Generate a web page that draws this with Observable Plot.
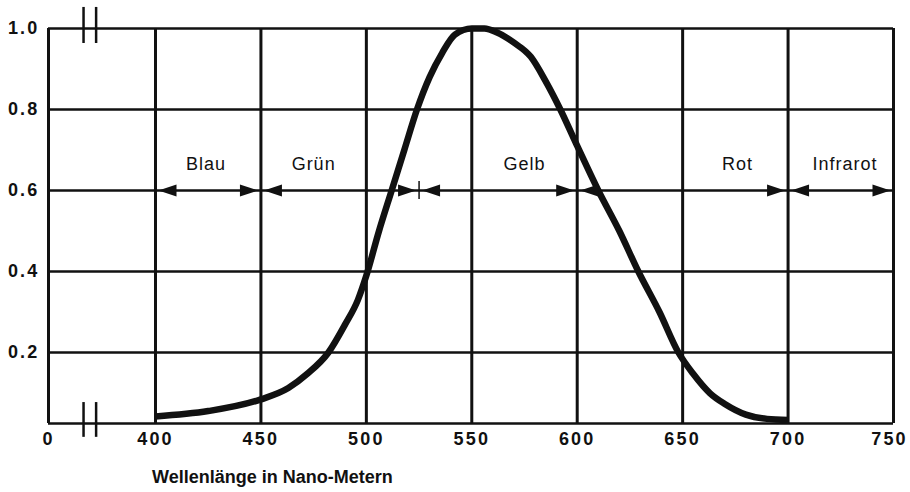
<!DOCTYPE html>
<html>
<head>
<meta charset="utf-8">
<script src="https://cdn.jsdelivr.net/npm/d3@7"></script>
<script src="https://cdn.jsdelivr.net/npm/@observablehq/plot@0.6"></script>
<style>
  body { margin: 0; background: #fff; }
  #chart svg { display: block; }
  #chart svg [aria-label="x-axis tick label"] text,
  #chart svg [aria-label="y-axis tick label"] text { letter-spacing: 2.2px; }
  #chart svg .band-label text { letter-spacing: 1px; }
  #title {
    margin: 11px 0 0 152px;
    font: bold 18px "Liberation Sans", Arial, sans-serif;
    line-height: 22px;
    color: #111;
  }
</style>
</head>
<body>
<div id="chart"></div>
<div id="title">Wellenlänge in Nano-Metern</div>
<script>
// Curve: relative spectral sensitivity of the eye
const wavelength  = [400, 425, 450, 463, 472, 482, 490, 496, 500, 506, 512, 518, 524, 530, 536, 542, 550, 556, 562, 570, 578, 585, 592, 600, 610, 620, 629, 639, 648, 655, 663, 670, 680, 690, 700];
const sensitivity = [0.02, 0.035, 0.068, 0.10, 0.14, 0.2, 0.27, 0.33, 0.39, 0.5, 0.6, 0.7, 0.8, 0.88, 0.94, 0.985, 1.0, 1.0, 0.99, 0.965, 0.93, 0.87, 0.8, 0.71, 0.6, 0.5, 0.4, 0.3, 0.2, 0.14, 0.085, 0.055, 0.025, 0.013, 0.01];

// Axes
const xTicks = [0, 400, 450, 500, 550, 600, 650, 700, 750];
const yTicks = [0.2, 0.4, 0.6, 0.8, 1.0];
const xGrid = [0, 400, 450, 500, 550, 600, 650, 700, 750];
const yGrid = [0, 0.2, 0.4, 0.6, 0.8, 1.0];

// Colour bands
const bandNames  = ["Blau", "Grün", "Gelb", "Rot", "Infrarot"];
const bandStart  = [400, 450, 525, 600, 700];
const bandEnd    = [450, 525, 600, 700, 750];
const bandLabelX = [424, 475, 575, 676, 727];
const bandLabelY = 0.665;
const arrowY = 0.6;
const bandDivider = [525];

// Axis break marks
const breakX = [131, 178];
const breakTop = [0.963, 1.052];
const breakBottom = [-0.039, 0.059];

const bands = bandNames.map((name, i) => ({name, start: bandStart[i], end: bandEnd[i], lx: bandLabelX[i]}));
const curve = wavelength.map((w, i) => ({w, v: sensitivity[i]}));

const head = {
  draw(ctx) {
    ctx.moveTo(0, 0);
    ctx.lineTo(-18, -6);
    ctx.lineTo(-18, 6);
    ctx.closePath();
  }
};

const ink = "#111";
const font = "'Liberation Sans', Arial, sans-serif";

const chart = Plot.plot({
  width: 910,
  height: 455,
  marginLeft: 48,
  marginRight: 17,
  marginTop: 28,
  marginBottom: 32,
  style: {fontFamily: font, color: ink, background: "#fff"},
  x: {type: "linear", domain: [0, 400, 750], range: [48, 155, 893]},
  y: {type: "linear", domain: [0, 0.2, 1], range: [423, 352, 28]},
  marks: [
    Plot.ruleY(yGrid, {stroke: ink, strokeWidth: 2.6}),
    Plot.ruleX(xGrid, {stroke: ink, strokeWidth: 3}),
    Plot.ruleX(breakX, {y1: breakTop[0], y2: breakTop[1], stroke: ink, strokeWidth: 2.5}),
    Plot.ruleX(breakX, {y1: breakBottom[0], y2: breakBottom[1], stroke: ink, strokeWidth: 2.5}),
    Plot.ruleX(bandDivider, {y1: arrowY - 0.022, y2: arrowY + 0.022, stroke: ink, strokeWidth: 1.5}),
    Plot.line(curve, {x: "w", y: "v", stroke: ink, strokeWidth: 6.5, curve: "monotone-x", strokeLinecap: "butt"}),
    Plot.dot(bands, {x: "end", y: () => arrowY, symbol: head, fill: ink, stroke: "none", dx: -3}),
    Plot.dot(bands, {x: "start", y: () => arrowY, symbol: head, fill: ink, stroke: "none", rotate: 180, dx: 3}),
    Plot.text(bands, {x: "lx", y: () => bandLabelY, text: "name", fontSize: 18, fill: ink, className: "band-label"}),
    Plot.axisX(xTicks, {tickSize: 0, tickPadding: 9, fontSize: 18, fontWeight: "bold", fill: ink, label: null}),
    Plot.axisY(yTicks, {tickSize: 0, tickPadding: 9, fontSize: 18, fontWeight: "bold", fill: ink, label: null, tickFormat: d3.format(".1f")})
  ]
});
// keep the last x tick label ("750") inside the picture, as in the reference
const xLabels = chart.querySelectorAll('[aria-label="x-axis tick label"] text');
if (xLabels.length) xLabels[xLabels.length - 1].setAttribute("dx", "-4");
document.getElementById("chart").appendChild(chart);
</script>
</body>
</html>
